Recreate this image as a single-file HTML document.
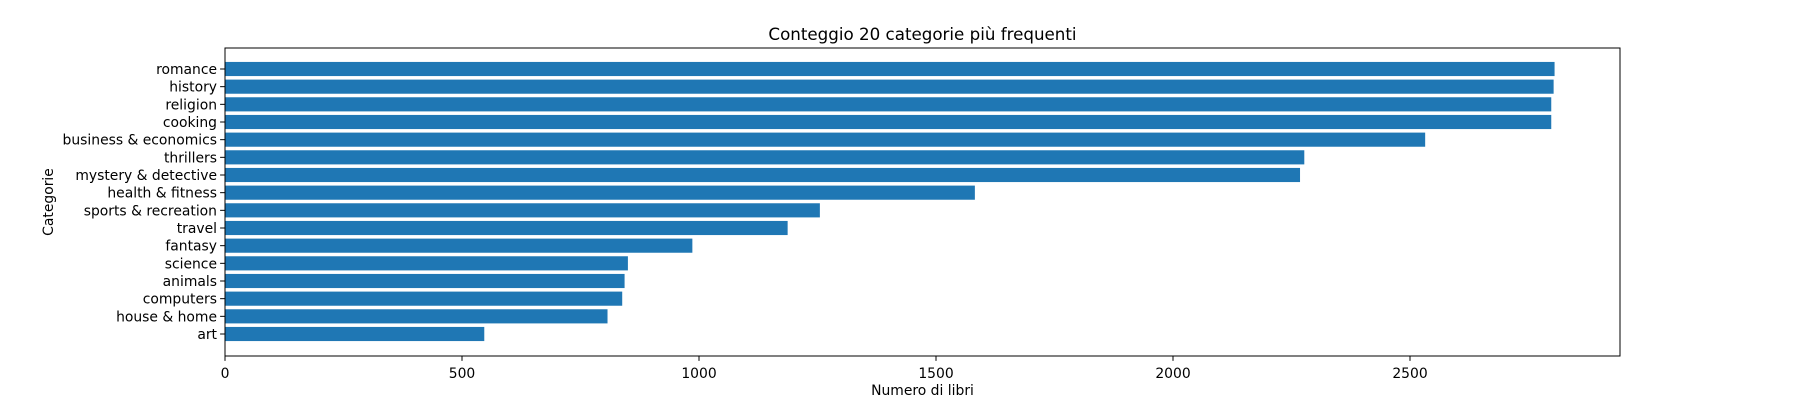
<!DOCTYPE html>
<html><head><meta charset="utf-8"><style>
body{margin:0;background:#fff}
svg text{font-family:"DejaVu Sans","Liberation Sans",sans-serif;fill:#000}
</style></head><body>
<svg id="chart" width="1800" height="400" xmlns="http://www.w3.org/2000/svg"></svg>
<script>
const categories=["romance","history","religion","cooking","business & economics","thrillers","mystery & detective","health & fitness","sports & recreation","travel","fantasy","science","animals","computers","house & home","art"];
const counts=[2805,2803,2798,2798,2532,2277,2268,1582,1255,1187,986,850,843,838,807,547];
const xTicks=[0,500,1000,1500,2000,2500];
const L=225,R=1620,T=48,B=356;
const xs=v=>L+v*(1410-L)/2500;
const y0=69,step=(334-69)/15;
const ys=i=>y0+i*step;
const bh=step*0.8;
const svg=document.getElementById('chart');
const NS='http://www.w3.org/2000/svg';
function mk(t,a,p){const e=document.createElementNS(NS,t);for(const k in a)e.setAttribute(k,a[k]);(p||svg).appendChild(e);return e;}
categories.forEach((c,i)=>{
 const r=mk('rect',{x:L,y:ys(i)-bh/2,width:xs(counts[i])-L,height:bh,fill:'#1f77b4'});
 
 
 const tk=mk('line',{x1:L-4.9,x2:L,y1:ys(i),y2:ys(i),stroke:'#000','stroke-width':1});
 
 
 const t=mk('text',{x:L-8,y:ys(i)+5,'text-anchor':'end','font-size':13.9});
 t.textContent=c;
 
 
});
xTicks.forEach(v=>{
 const tk=mk('line',{x1:xs(v),x2:xs(v),y1:B,y2:B+4.9,stroke:'#000','stroke-width':1});
 
 
 const t=mk('text',{x:xs(v),y:B+22,'text-anchor':'middle','font-size':13.9});
 t.textContent=v;
 
 
});
const f=mk('rect',{x:L,y:T,width:R-L,height:B-T,fill:'none',stroke:'#000','stroke-width':1});


const ti=mk('text',{x:(L+R)/2,y:T-8,'text-anchor':'middle','font-size':16.7});
ti.textContent='Conteggio 20 categorie più frequenti';


const xl=mk('text',{x:(L+R)/2,y:395,'text-anchor':'middle','font-size':13.9});
xl.textContent='Numero di libri';


const yl=mk('text',{x:0,y:0,'text-anchor':'middle','font-size':13.9,transform:'translate(53,'+((T+B)/2)+') rotate(-90)'});
yl.textContent='Categorie';


</script>
</body></html>
